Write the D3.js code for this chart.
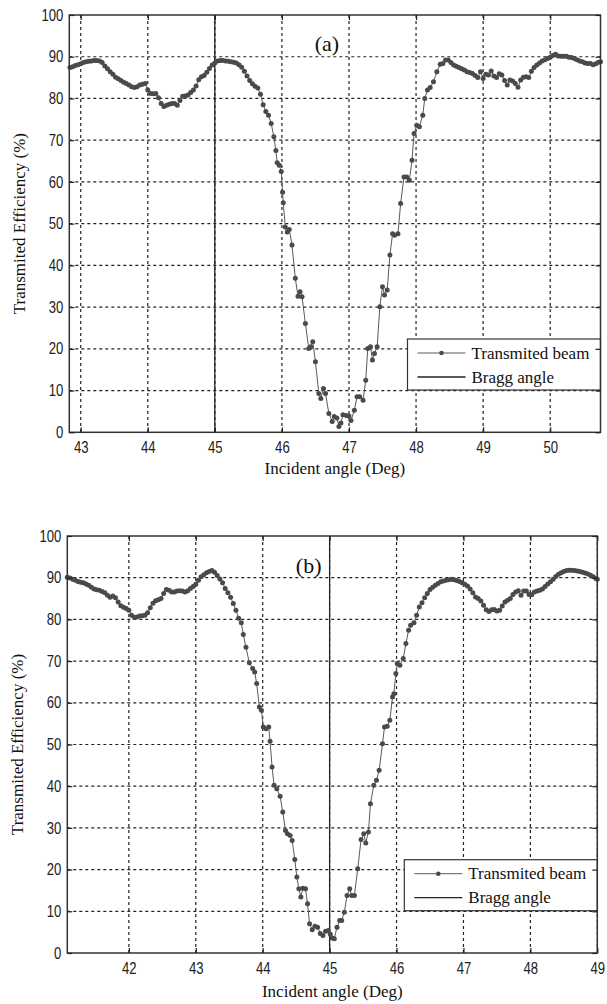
<!DOCTYPE html>
<html><head><meta charset="utf-8">
<script src="https://cdn.jsdelivr.net/npm/d3@7"></script>
<style>body{margin:0;background:#fff}svg{display:block}</style>
</head><body>
<svg id="c" width="607" height="1004"></svg>
<script>
// ---------- data ----------
const yTicks = [0,10,20,30,40,50,60,70,80,90,100];
const topXTicks = [43,44,45,46,47,48,49,50];
const bottomXTicks = [42,43,44,45,46,47,48,49];
const topDomain = [42.83, 50.75];
const bottomDomain = [41.08, 49.0];
const braggAngle = 45;
const panelLabels = ["(a)", "(b)"];
const legendLabels = ["Transmited beam", "Bragg angle"];
const xTitle = "Incident angle (Deg)";
const yTitle = "Transmited Efficiency (%)";

const topAngle = [
42.84,42.88,42.92,42.96,43.00,43.04,43.08,43.12,43.16,43.20,
43.24,43.28,43.32,43.36,43.40,43.44,43.48,43.52,43.56,43.60,
43.64,43.68,43.72,43.76,43.80,43.84,43.88,43.92,43.96,44.00,
44.04,44.08,44.12,44.16,44.20,44.24,44.28,44.32,44.36,44.40,
44.44,44.48,44.52,44.56,44.60,44.64,44.68,44.72,44.76,44.80,
44.84,44.88,44.92,44.96,45.00,45.04,45.08,45.12,45.16,45.20,
45.24,45.28,45.32,45.36,45.40,45.44,45.48,45.52,45.56,45.60,
45.64,45.68,45.72,45.76,45.80,45.84,45.88,45.91,45.93,45.96,
45.99,46.01,46.02,46.05,46.08,46.11,46.15,46.20,46.24,46.27,
46.30,46.35,46.40,46.43,46.46,46.50,46.55,46.58,46.62,46.65,
46.70,46.75,46.78,46.82,46.85,46.88,46.91,46.96,47.00,47.03,
47.08,47.12,47.16,47.21,47.25,47.28,47.32,47.35,47.38,47.42,
47.46,47.50,47.53,47.57,47.61,47.65,47.68,47.73,47.77,47.82,
47.86,47.90,47.94,47.97,48.01,48.05,48.10,48.13,48.17,48.21,
48.26,48.31,48.36,48.40,48.44,48.48,48.52,48.56,48.60,48.64,
48.68,48.72,48.76,48.80,48.84,48.88,48.92,48.96,49.00,49.04,
49.08,49.12,49.16,49.20,49.24,49.28,49.32,49.36,49.40,49.44,
49.48,49.52,49.56,49.60,49.64,49.68,49.72,49.76,49.80,49.84,
49.88,49.92,49.96,50.00,50.04,50.08,50.12,50.16,50.20,50.24,
50.28,50.32,50.36,50.40,50.44,50.48,50.52,50.56,50.60,50.64,
50.68,50.72,50.75];
const topEff = [
87.4,87.6,87.9,88.1,88.3,88.6,88.8,88.9,89.0,89.1,
89.1,89.0,88.6,87.8,87.1,86.4,85.8,85.1,84.7,84.3,
83.9,83.6,83.2,82.8,82.6,82.8,83.2,83.4,83.6,82.0,
81.2,81.1,81.2,80.2,78.8,78.1,78.4,78.6,78.8,78.8,
78.4,79.5,80.5,80.6,80.8,81.4,82.0,83.0,84.5,85.2,
85.5,86.3,87.2,88.0,88.5,89.0,89.1,89.1,89.0,88.9,
88.8,88.7,88.5,88.1,87.5,86.5,85.4,84.3,83.5,82.9,
82.5,81.0,78.5,76.9,76.0,74.0,70.8,67.5,64.6,64.0,
62.5,57.5,55.0,49.2,48.0,48.6,44.9,36.9,32.6,33.7,
32.5,26.1,20.1,20.5,21.7,16.9,9.3,8.1,10.5,9.3,
4.5,2.6,3.8,3.4,1.4,2.2,4.2,4.0,3.9,2.8,
5.3,8.5,8.5,7.7,12.5,20.1,20.5,17.3,18.9,20.5,
30.1,34.9,32.9,34.1,42.5,47.6,47.2,47.6,54.8,61.2,
61.2,60.4,65.2,71.6,73.6,73.2,76.0,80.0,82.0,82.6,
84.0,86.4,88.2,88.4,89.2,89.2,88.6,88.0,87.7,87.4,
87.1,86.8,86.4,86.2,86.0,85.5,85.0,86.4,84.8,85.8,
85.6,86.6,85.4,85.0,85.9,85.6,84.3,83.2,84.4,84.2,
83.6,82.7,84.4,85.1,85.2,85.0,86.5,87.4,88.0,88.5,
89.0,89.3,89.6,89.9,90.3,90.6,90.2,90.1,90.1,90.1,
89.9,89.8,89.6,89.3,89.0,88.8,88.5,88.4,88.4,88.1,
88.3,88.7,88.8];

const bottomAngle = [
41.08,41.12,41.16,41.20,41.24,41.28,41.32,41.36,41.40,41.44,
41.48,41.52,41.56,41.60,41.64,41.68,41.72,41.76,41.80,41.84,
41.88,41.92,41.96,42.00,42.04,42.08,42.12,42.16,42.20,42.24,
42.28,42.32,42.36,42.40,42.44,42.48,42.52,42.56,42.60,42.64,
42.68,42.72,42.76,42.80,42.84,42.88,42.92,42.96,43.00,43.04,
43.08,43.12,43.16,43.20,43.24,43.28,43.32,43.36,43.40,43.44,
43.48,43.52,43.56,43.60,43.64,43.68,43.71,43.75,43.80,43.85,
43.88,43.91,43.95,43.98,44.01,44.05,44.09,44.11,44.14,44.17,
44.21,44.26,44.30,44.34,44.37,44.41,44.44,44.48,44.51,44.54,
44.57,44.60,44.64,44.67,44.70,44.74,44.78,44.82,44.86,44.90,
44.94,44.98,45.01,45.04,45.07,45.11,45.15,45.18,45.22,45.26,
45.30,45.33,45.37,45.42,45.47,45.51,45.54,45.58,45.61,45.66,
45.70,45.74,45.79,45.82,45.86,45.90,45.94,45.96,45.99,46.01,
46.05,46.10,46.14,46.18,46.21,46.26,46.30,46.34,46.38,46.42,
46.46,46.50,46.54,46.58,46.62,46.66,46.70,46.74,46.78,46.82,
46.86,46.90,46.94,46.98,47.02,47.06,47.10,47.14,47.18,47.22,
47.26,47.30,47.34,47.38,47.42,47.46,47.50,47.54,47.58,47.62,
47.66,47.70,47.74,47.78,47.82,47.86,47.90,47.94,47.98,48.02,
48.06,48.10,48.14,48.18,48.22,48.26,48.30,48.34,48.38,48.42,
48.46,48.50,48.54,48.58,48.62,48.66,48.70,48.74,48.78,48.82,
48.86,48.90,48.94,48.98,49.00];
const bottomEff = [
90.1,89.9,89.6,89.4,89.1,88.9,88.8,88.5,88.2,87.7,
87.3,87.1,87.0,86.7,86.4,85.8,85.3,85.6,85.2,84.2,
83.3,82.9,82.6,82.2,81.0,80.5,80.6,80.8,80.9,81.0,
81.6,82.8,83.9,84.5,84.7,85.0,86.2,87.2,87.0,86.6,
86.6,86.8,86.9,86.8,86.6,86.9,87.4,87.9,88.4,89.4,
90.2,90.7,91.2,91.5,91.7,91.3,90.5,89.7,88.8,87.4,
86.4,85.3,83.8,82.2,80.3,79.2,76.4,73.3,69.6,68.2,
67.4,64.6,59.0,58.2,54.2,53.8,54.2,50.8,44.6,40.2,
39.4,37.6,33.8,29.4,28.6,28.2,27.0,22.4,18.2,15.4,
13.4,15.5,15.4,11.8,7.0,5.6,6.4,6.2,4.7,4.2,
5.2,5.4,4.5,3.6,3.4,6.2,7.8,7.8,9.8,13.8,
15.4,13.8,13.8,20.2,27.2,28.6,26.4,29.0,35.8,40.2,
41.4,43.8,50.2,54.2,54.4,55.8,61.4,62.2,67.0,69.4,
69.0,70.6,74.2,77.4,78.6,79.2,81.0,83.0,84.0,85.2,
86.2,87.2,87.7,88.2,88.6,89.0,89.2,89.4,89.5,89.6,
89.5,89.3,89.1,88.8,88.4,88.0,87.3,86.4,85.4,85.0,
84.4,83.4,82.3,81.9,82.3,82.4,82.0,82.2,83.2,84.2,
84.6,85.0,86.0,86.6,86.9,85.8,86.8,86.8,86.0,85.9,
86.6,86.8,87.0,87.3,87.9,88.5,89.0,89.6,90.3,90.8,
91.2,91.5,91.7,91.8,91.8,91.7,91.6,91.5,91.3,91.1,
90.9,90.6,90.2,89.8,89.6];

// ---------- drawing ----------
const SERIF = "'Liberation Serif','Times New Roman',serif";
function fontAvailable(name) {
  const c = document.createElement("canvas").getContext("2d");
  c.font = "40px monospace"; const a = c.measureText("100 4349").width;
  c.font = "40px '" + name + "', monospace"; const b = c.measureText("100 4349").width;
  return Math.abs(a - b) > 0.5;
}
const narrow = fontAvailable("Liberation Sans Narrow");
const TICKFONT = narrow ? "'Liberation Sans Narrow'" : "'Liberation Sans'";
const TICKSCALE = narrow ? 1 : 0.82;

const svg = d3.select("#c");

function drawPanel(o) {
  const x = d3.scaleLinear().domain(o.domain).range([o.left, o.right]);
  const y = d3.scaleLinear().domain([0, 100]).range([o.bottom, o.top]);
  const g = svg.append("g");

  // grid
  g.append("g").selectAll("line").data(o.xTicks).join("line")
    .attr("x1", d => x(d)).attr("x2", d => x(d))
    .attr("y1", o.top).attr("y2", o.bottom)
    .attr("stroke", "#222").attr("stroke-width", 1.2).attr("stroke-dasharray", "3,3");
  g.append("g").selectAll("line").data(yTicks.filter(v => v > 0 && v < 100)).join("line")
    .attr("x1", o.left).attr("x2", o.right)
    .attr("y1", d => y(d)).attr("y2", d => y(d))
    .attr("stroke", "#222").attr("stroke-width", 1.2).attr("stroke-dasharray", "3,3");

  // Bragg angle
  g.append("line")
    .attr("x1", x(braggAngle)).attr("x2", x(braggAngle))
    .attr("y1", o.top).attr("y2", o.bottom)
    .attr("stroke", "#222").attr("stroke-width", 1.3);

  // series
  const pts = o.angle.map((a, i) => [a, o.eff[i]]);
  g.append("path").datum(pts)
    .attr("fill", "none").attr("stroke", "#5a5a5a").attr("stroke-width", 1)
    .attr("d", d3.line().x(d => x(d[0])).y(d => y(d[1])));
  g.append("g").selectAll("circle").data(pts).join("circle")
    .attr("cx", d => x(d[0])).attr("cy", d => y(d[1])).attr("r", 2.5)
    .attr("fill", "#4a4a4a");

  // panel label
  g.append("text").attr("x", o.labelX).attr("y", o.labelY)
    .attr("text-anchor", "middle").attr("font-family", SERIF).attr("font-size", 22)
    .attr("fill", "#111").text(o.label);

  // legend
  const lw = 193, lh = 51;
  const lx = o.right - lw, ly = o.bottom - 42.3 - lh;
  const lg = g.append("g").attr("transform", `translate(${lx},${ly})`);
  lg.append("rect").attr("width", lw).attr("height", lh)
    .attr("fill", "#fff").attr("stroke", "#333").attr("stroke-width", 1.2);
  const rows = [14, 38];
  lg.append("line").attr("x1", 10).attr("x2", 58).attr("y1", rows[0]).attr("y2", rows[0])
    .attr("stroke", "#5a5a5a").attr("stroke-width", 1);
  lg.append("circle").attr("cx", 34).attr("cy", rows[0]).attr("r", 2.3).attr("fill", "#4a4a4a");
  lg.append("line").attr("x1", 10).attr("x2", 58).attr("y1", rows[1]).attr("y2", rows[1])
    .attr("stroke", "#222").attr("stroke-width", 1.3);
  lg.selectAll("text").data(legendLabels).join("text")
    .attr("x", 64).attr("y", (d, i) => rows[i]).attr("dy", "0.33em")
    .attr("font-family", SERIF).attr("font-size", 17).attr("fill", "#111").text(d => d);

  // frame
  g.append("rect").attr("x", o.left).attr("y", o.top)
    .attr("width", o.right - o.left).attr("height", o.bottom - o.top)
    .attr("fill", "none").attr("stroke", "#333").attr("stroke-width", 1.5);

  // axes
  const ax = g.append("g").attr("transform", `translate(0,${o.bottom})`)
    .call(d3.axisBottom(x).tickValues(o.xTicks).tickSize(-5).tickPadding(9.5).tickFormat(d3.format("d")));
  const ay = g.append("g").attr("transform", `translate(${o.left},0)`)
    .call(d3.axisLeft(y).tickValues(yTicks).tickSize(-5).tickPadding(6).tickFormat(d3.format("d")));
  g.append("g").attr("transform", `translate(0,${o.top})`)
    .call(d3.axisTop(x).tickValues(o.xTicks).tickSize(-5).tickFormat(""));
  g.append("g").attr("transform", `translate(${o.right},0)`)
    .call(d3.axisRight(y).tickValues(yTicks).tickSize(-5).tickFormat(""));
  g.selectAll(".domain").remove();
  g.selectAll(".tick line").attr("stroke", "#222").attr("stroke-width", 1.2);
  [ax, ay].forEach(a => a.selectAll(".tick text")
    .attr("font-family", TICKFONT).attr("font-size", 16).attr("fill", "#222"));
  if (TICKSCALE !== 1) {
    [ax, ay].forEach(a => a.selectAll(".tick text").each(function () {
      const t = d3.select(this);
      const tx = +t.attr("x") || 0;
      t.attr("transform", `scale(${TICKSCALE},1)`).attr("x", tx / TICKSCALE);
    }));
  }

  // axis titles
  g.append("text").attr("x", (o.left + o.right) / 2).attr("y", o.xTitleY)
    .attr("text-anchor", "middle").attr("font-family", SERIF).attr("font-size", 17)
    .attr("fill", "#111").text(xTitle);
  g.append("text")
    .attr("transform", `translate(${o.yTitleX},${(o.top + o.bottom) / 2}) rotate(-90)`)
    .attr("text-anchor", "middle").attr("font-family", SERIF).attr("font-size", 17)
    .attr("fill", "#111").text(yTitle);
}

drawPanel({
  domain: topDomain, xTicks: topXTicks, angle: topAngle, eff: topEff,
  left: 69.3, right: 600.5, top: 15, bottom: 432.3,
  label: panelLabels[0], labelX: 327, labelY: 51,
  xTitleY: 474, yTitleX: 25
});
drawPanel({
  domain: bottomDomain, xTicks: bottomXTicks, angle: bottomAngle, eff: bottomEff,
  left: 67.3, right: 597.3, top: 536, bottom: 953,
  label: panelLabels[1], labelX: 308.7, labelY: 573,
  xTitleY: 997, yTitleX: 23
});
</script>
</body></html>
